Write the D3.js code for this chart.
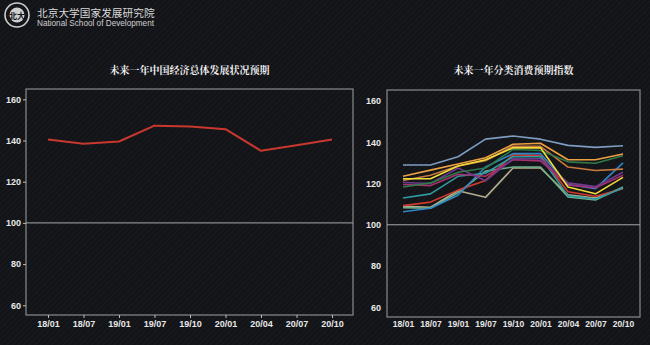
<!DOCTYPE html>
<html><head><meta charset="utf-8">
<script src="https://cdn.jsdelivr.net/npm/d3@7"></script>
<style>html,body{margin:0;padding:0;background:#131418;}svg{display:block;}</style>
</head><body>
<script>
const periods = ["18/01","18/07","19/01","19/07","19/10","20/01","20/04","20/07","20/10"];
const yTicks = [60,80,100,120,140,160];
const titleLeft = "未来一年中国经济总体发展状况预期";
const titleRight = "未来一年分类消费预期指数";
const overallValues = [140.5,138.4,139.5,147.2,146.8,145.5,135.0,137.7,140.5];
const catSteel   = [129,129,133,141.5,143,141.5,138.5,137.5,138.3];
const catOrange  = [123.5,126.5,129.5,132.5,139,139.5,131.5,131.5,134.3];
const catYellow  = [122.3,122.3,128.5,131.5,137.3,137.3,118.3,115,123];
const catGreen   = [118.3,120.3,125.5,127.5,136.5,136,130.5,129.8,133.5];
const catBrown   = [121.5,124,128.5,131,138,138,128,126.3,127];
const catPurple  = [120.5,120,127.5,121.3,132,132,120.3,118.5,125.5];
const catMagenta = [119.5,119,124.5,123.5,131.5,131,119.3,118,124];
const catTeal    = [113,115,123.5,125,133,133,114,112.5,117.8];
const catBlue    = [106.3,108,114.3,128,134.5,134.5,119.5,117.5,130];
const catRed     = [109.3,111,116.8,121.5,134,133.5,116,113.8,117.5];
const catKhaki   = [109,108.5,116.5,113.3,127.5,127.5,114.5,113,118];
const catLtGreen = [108.3,108,115.5,126,128,128,113.5,112,118.3];
const catSeries = [
  {v:catKhaki, c:"#b5ae8c"},{v:catLtGreen, c:"#6fae8a"},{v:catRed, c:"#cf3a2e"},
  {v:catBlue, c:"#2f86c8"},{v:catTeal, c:"#2f9aa0"},{v:catMagenta, c:"#a8306e"},
  {v:catPurple, c:"#6e3a8e"},{v:catBrown, c:"#c97a3e"},{v:catGreen, c:"#2e7a48"},
  {v:catYellow, c:"#f2dc3a"},{v:catOrange, c:"#eda043"},{v:catSteel, c:"#7c9cc0"}
];

const W=650,H=345;
const svg=d3.select("body").append("svg").attr("width",W).attr("height",H);
const defs=svg.append("defs");
const pat=defs.append("pattern").attr("id","hatch").attr("width",4).attr("height",4)
  .attr("patternUnits","userSpaceOnUse").attr("patternTransform","rotate(45)");
pat.append("rect").attr("width",4).attr("height",4).attr("fill","#131418");
pat.append("line").attr("x1",0).attr("y1",0).attr("x2",0).attr("y2",4).attr("stroke","#1b1c21").attr("stroke-width",1.5);
svg.append("rect").attr("width",W).attr("height",H).attr("fill","url(#hatch)");

// logo
const logo=svg.append("g");
logo.append("circle").attr("cx",17).attr("cy",15).attr("r",12).attr("fill","none").attr("stroke","#cfcfcf").attr("stroke-width",1.6);
logo.append("circle").attr("cx",17).attr("cy",15).attr("r",7.5).attr("fill","#cfcfcf");
logo.append("text").attr("x",17).attr("y",18.5).attr("text-anchor","middle").attr("font-size",8).attr("font-weight","bold").attr("fill","#131418").attr("font-family","Noto Sans CJK SC").text("北大");
logo.append("text").attr("x",37).attr("y",17).attr("font-size",10.7).attr("fill","#d8d8d8").attr("font-family","Noto Sans CJK SC").text("北京大学国家发展研究院");
logo.append("text").attr("x",37).attr("y",26).attr("font-size",8.2).attr("fill","#d0d0d0").attr("font-family","Liberation Sans, Arial").text("National School of Development");

const font="Liberation Sans, Arial, sans-serif";

function panel(opt){
  const g=svg.append("g");
  const x=d3.scalePoint().domain(periods).range([opt.x0,opt.x1]);
  const y=d3.scaleLinear().domain([60,160]).range([opt.y60,opt.y160]);
  g.append("text").attr("x",(opt.fl+opt.fr)/2).attr("y",opt.ty).attr("text-anchor","middle")
    .attr("font-family","Noto Serif CJK SC, Noto Sans CJK SC").attr("font-weight","bold").attr("font-size",10)
    .attr("fill","#f0f0f0").text(opt.title);
  g.append("rect").attr("x",opt.fl).attr("y",opt.ft).attr("width",opt.fr-opt.fl).attr("height",opt.fb-opt.ft)
    .attr("fill","none").attr("stroke","#8a8a8a").attr("stroke-width",1.2);
  g.append("line").attr("x1",opt.fl).attr("x2",opt.fr).attr("y1",y(100)).attr("y2",y(100)).attr("stroke","#a8a8a8").attr("stroke-width",1);
  const ya=g.append("g").attr("transform",`translate(${opt.fl},0)`)
    .call(d3.axisLeft(y).tickValues(yTicks).tickSize(opt.tick?3:0).tickPadding(opt.tick?2:opt.ypad));
  ya.select(".domain").remove();
  ya.selectAll("line").attr("stroke","#bbb");
  ya.selectAll("text").attr("font-family",font).attr("font-weight","bold").attr("font-size",9).attr("fill","#e8e8e8");
  const xa=g.append("g").attr("transform",`translate(0,${opt.fb})`)
    .call(d3.axisBottom(x).tickSize(opt.tick?3:0).tickPadding(opt.tick?3:4));
  xa.select(".domain").remove();
  xa.selectAll("line").attr("stroke","#bbb");
  xa.selectAll("text").attr("font-family",font).attr("font-weight","bold").attr("font-size",opt.xfs).attr("fill","#e8e8e8");
  const line=d3.line().x((d,i)=>x(periods[i])).y(d=>y(d));
  opt.series.forEach(s=>{
    g.append("path").attr("d",line(s.v)).attr("fill","none").attr("stroke",s.c).attr("stroke-width",opt.sw).attr("stroke-linejoin","round");
  });
}

panel({title:titleLeft,ty:74,fl:26,fr:353,ft:89,fb:315,x0:48,x1:332,y60:305.3,y160:99.3,tick:true,xfs:9,sw:2,
  series:[{v:overallValues,c:"#c8382e"}]});
panel({title:titleRight,ty:74,fl:387,fr:640,ft:90,fb:317,x0:403,x1:623,y60:307.3,y160:101,tick:false,ypad:6,xfs:8.5,sw:1.6,
  series:catSeries});
</script>
</body></html>
